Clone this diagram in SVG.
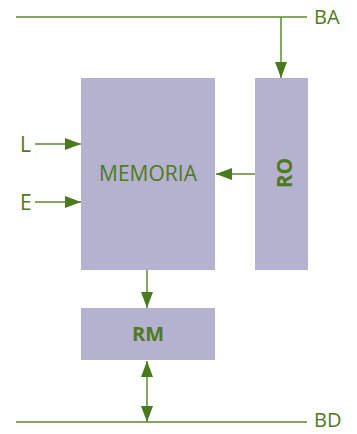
<svg xmlns="http://www.w3.org/2000/svg" width="357" height="434" viewBox="0 0 357 434">
<style>
.box{fill:#b4b2cf}
.ln{stroke:#5b8a32;stroke-width:1.5;fill:none}
.t{font-family:"Open Sans","Noto Sans",sans-serif;font-size:21px;fill:#4f7a22}
.b{font-weight:bold}
</style>
<defs>
<marker id="ah" viewBox="0 0 16 12" refX="16" refY="6" markerWidth="16" markerHeight="12" markerUnits="userSpaceOnUse" orient="auto-start-reverse">
<path d="M0,0 L16,6 L0,12 Z" fill="#4a7a1e"/>
</marker>
</defs>
<rect width="357" height="434" fill="#fff"/>
<g id="bus-a"><text class="t" x="314" y="24" style="font-size:20px">BA</text></g>
<g id="bus-d"><text class="t" x="314" y="427" style="font-size:20px">BD</text></g>
<g id="memoria"><rect class="box" x="81" y="78" width="134" height="192"/><text class="t" x="148" y="181" text-anchor="middle">MEMORIA</text></g>
<g id="ro"><rect class="box" x="255" y="78" width="53" height="192"/><text class="t b" x="0" y="0" text-anchor="middle" transform="translate(292,173) rotate(-90)">RO</text></g>
<g id="rm"><rect class="box" x="81" y="308" width="134" height="52"/><text class="t b" x="148" y="341" text-anchor="middle" style="font-size:20px">RM</text></g>
<g id="lbl-l"><text class="t" x="20" y="152">L</text></g>
<g id="lbl-e"><text class="t" x="20" y="210">E</text></g>
<g id="connectors">
<line class="ln" x1="16" y1="17" x2="307" y2="17"/>
<line class="ln" x1="16" y1="422" x2="307" y2="422"/>
<line class="ln" x1="281" y1="17" x2="281" y2="78" marker-end="url(#ah)"/>
<line class="ln" x1="255" y1="174" x2="216" y2="174" marker-end="url(#ah)"/>
<line class="ln" x1="35" y1="144" x2="81" y2="144" marker-end="url(#ah)"/>
<line class="ln" x1="35" y1="202" x2="81" y2="202" marker-end="url(#ah)"/>
<line class="ln" x1="147" y1="270" x2="147" y2="308" marker-end="url(#ah)"/>
<line class="ln" x1="147" y1="361" x2="147" y2="422" marker-start="url(#ah)" marker-end="url(#ah)"/>
</g>
</svg>
